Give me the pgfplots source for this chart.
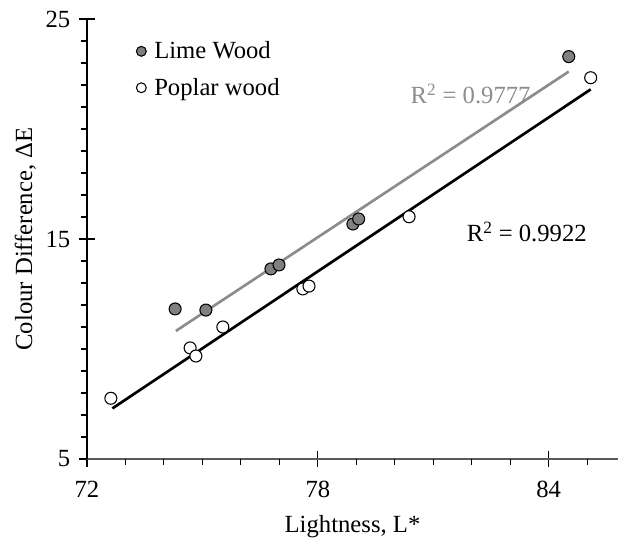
\documentclass[border=0pt]{standalone}
\usepackage{fontspec}
\setmainfont{Liberation Serif}
\usepackage{pgfplots}
\pgfplotsset{compat=1.18}
\definecolor{markgray}{RGB}{128,128,128}
\definecolor{linegray}{RGB}{140,140,140}
\definecolor{axisgray}{RGB}{90,90,90}
\begin{document}
\begin{tikzpicture}
\begin{axis}[
  name=ax,
  scale only axis,
  width=398.25pt, height=330pt,
  xmin=72, xmax=85.8, ymin=5, ymax=25,
  axis x line*=bottom, axis y line*=left,
  x axis line style={axisgray, line width=1.2pt},
  y axis line style={black, line width=0.8pt},
  xtick={72,78,84}, ytick={5,15,25},
  tick align=center, major tick length=12pt,
  tick style={black, line width=0.8pt},
  extra x ticks={73,74,75,76,77,79,80,81,82,83,85}, extra x tick labels={},
  extra x tick style={tick align=outside, major tick length=4.5pt},
  extra y ticks={6,7,8,9,10,11,12,13,14,16,17,18,19,20,21,22,23,24}, extra y tick labels={},
  extra y tick style={tick align=outside, major tick length=4.5pt},
  /pgf/number format/assume math mode=true,
  ticklabel style={font=\fontsize{18.5}{21}\selectfont},
  xticklabel style={yshift=-7pt},
  yticklabel style={xshift=-3pt},
  xlabel={Lightness, L*},
  ylabel={Colour Difference, ΔE},
  label style={font=\fontsize{18.5}{21}\selectfont},
  xlabel style={yshift=4pt},
  ylabel style={yshift=-10pt},
  legend style={draw=none, fill=none, at={(rel axis cs:0.085,0.961)}, anchor=north west,
    font=\fontsize{18.5}{21}\selectfont, row sep=9pt, column sep=4pt},
  legend image post style={mark size=3.7pt},
  legend cell align=left,
  clip=false,
]
\addplot[only marks, mark=*, mark size=4.5pt, mark options={fill=markgray, draw=black, line width=0.8pt}]
coordinates {
(74.29,11.82) (75.09,11.77) (76.78,13.64) (76.99,13.82) (78.91,15.68) (79.06,15.91) (84.52,23.29)
};
\addlegendentry{Lime Wood}
\addplot[only marks, mark=*, mark size=4.5pt, mark options={fill=white, draw=black, line width=0.8pt}]
coordinates {
(72.62,7.76) (74.68,10.05) (74.83,9.68) (75.53,11.0) (77.61,12.73) (77.77,12.86) (80.37,16.01) (85.09,22.33)
};
\addlegendentry{Poplar wood}
\addplot[forget plot, linegray, line width=2pt] coordinates {(74.31,10.82) (84.52,22.61)};
\addplot[forget plot, black, line width=2pt] coordinates {(72.66,7.30) (85.09,21.80)};
\node[linegray, font=\fontsize{18.5}{21}\selectfont] at (axis cs:81.97,21.6) {R\textsuperscript{2} = 0.9777};
\node[black, font=\fontsize{18.5}{21}\selectfont] at (axis cs:83.43,15.33) {R\textsuperscript{2} = 0.9922};
\end{axis}
\pgfresetboundingbox
\path ([shift={(-65.25pt,-63.75pt)}]ax.south west) rectangle ([shift={(0pt,14.25pt)}]ax.north east);
\end{tikzpicture}
\end{document}
